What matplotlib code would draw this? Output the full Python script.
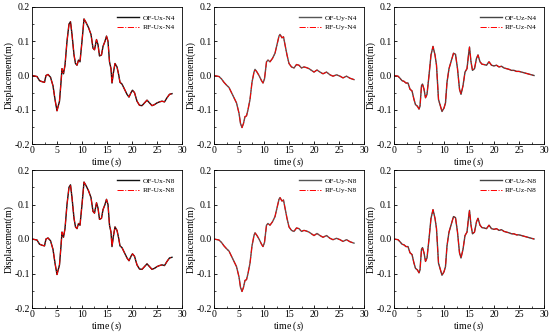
import matplotlib
matplotlib.use("Agg")
import matplotlib.pyplot as plt
from matplotlib.ticker import MultipleLocator

plt.rcParams['font.family'] = ['Liberation Serif', 'DejaVu Serif']
plt.rcParams['mathtext.fontset'] = 'custom'
plt.rcParams['mathtext.it'] = 'Liberation Serif:italic'
plt.rcParams['mathtext.rm'] = 'Liberation Serif'

# ---- data ----
t_ux = [0, 1, 1.5, 2, 2.5, 2.8, 3.2, 3.7, 4.2, 4.6, 5.0, 5.5, 5.8, 6.0, 6.3, 6.6, 7.0, 7.4, 7.7,
        8.0, 8.4, 8.7, 9.0, 9.3, 9.6, 10.0, 10.4, 10.8, 11.3, 11.8, 12.2, 12.5, 12.9, 13.2, 13.5,
        13.9, 14.2, 14.6, 14.9, 15.2, 15.5, 15.8, 16.0, 16.3, 16.6, 17.0, 17.3, 17.6, 18.0, 18.5,
        19.0, 19.4, 19.8, 20.1, 20.5, 21.0, 21.5, 22.0, 22.5, 23.0, 23.5, 24.0, 24.5, 25.0, 25.5,
        26.0, 26.5, 27.0, 27.5, 28.0]
ux = [0.0, -0.003, -0.015, -0.018, -0.02, 0.0, 0.003, -0.005, -0.03, -0.07, -0.103, -0.075, -0.02,
      0.02, 0.005, 0.03, 0.1, 0.15, 0.157, 0.12, 0.06, 0.035, 0.03, 0.045, 0.04, 0.1, 0.165, 0.155,
      0.14, 0.12, 0.08, 0.075, 0.105, 0.09, 0.057, 0.06, 0.085, 0.1, 0.115, 0.1, 0.04, 0.02, -0.022,
      0.01, 0.035, 0.025, 0.005, -0.02, -0.025, -0.04, -0.055, -0.063, -0.05, -0.043, -0.05, -0.075,
      -0.087, -0.088, -0.08, -0.072, -0.08, -0.088, -0.085, -0.08, -0.077, -0.075, -0.077, -0.065,
      -0.055, -0.053]

t_uy = [0, 1, 1.5, 2, 2.5, 3, 3.5, 4, 4.5, 5, 5.3, 5.6, 5.9, 6.2, 6.5, 6.8, 7.2, 7.6, 8.0, 8.2, 8.6,
        9.0, 9.5, 9.8, 10.1, 10.5, 10.8, 11.2, 11.7, 12.2, 12.6, 13.0, 13.2, 13.6, 13.9, 14.2, 14.6,
        15.0, 15.5, 16.0, 16.5, 17.0, 17.5, 18.0, 18.5, 19.0, 19.5, 20.0, 20.6, 21.2, 21.8, 22.5,
        23.2, 23.8, 24.5, 25.2, 25.8, 26.5, 27.2, 28.0]
uy = [0.0, -0.003, -0.01, -0.02, -0.028, -0.035, -0.05, -0.065, -0.08, -0.11, -0.14, -0.152, -0.14,
      -0.12, -0.118, -0.1, -0.07, -0.02, 0.01, 0.018, 0.01, 0.0, -0.015, -0.022, -0.01, 0.04, 0.045,
      0.04, 0.05, 0.065, 0.09, 0.115, 0.12, 0.11, 0.113, 0.09, 0.06, 0.035, 0.025, 0.022, 0.032,
      0.03, 0.022, 0.025, 0.023, 0.02, 0.015, 0.01, 0.016, 0.01, 0.005, 0.01, 0.002, -0.002, 0.002,
      -0.002, -0.007, -0.002, -0.008, -0.012]

t_uz = [0, 0.8, 1.2, 1.6, 2.0, 2.4, 2.8, 3.2, 3.6, 4.0, 4.3, 4.7, 5.0, 5.2, 5.5, 5.7, 6.0, 6.3, 6.6,
        7.0, 7.4, 7.8, 8.2, 8.5, 8.9, 9.3, 9.6, 10.0, 10.3, 10.6, 11.0, 11.5, 11.9, 12.3, 12.7, 13.1,
        13.4, 13.8, 14.2, 14.6, 14.9, 15.1, 15.4, 15.7, 16.1, 16.5, 16.8, 17.2, 17.6, 18.0, 18.5,
        19.0, 19.5, 20.0, 20.5, 21.0, 21.5, 22.0, 22.5, 23.0, 23.5, 24.0, 24.5, 25.0, 25.5, 26.0,
        26.5, 27.0, 27.5, 28.0]
uz = [0.0, -0.002, -0.008, -0.015, -0.017, -0.022, -0.022, -0.04, -0.045, -0.07, -0.085, -0.09,
      -0.098, -0.09, -0.03, -0.025, -0.04, -0.065, -0.055, 0.0, 0.06, 0.085, 0.06, 0.03, -0.07,
      -0.09, -0.105, -0.095, -0.08, -0.02, 0.02, 0.045, 0.065, 0.062, 0.02, -0.04, -0.055, -0.03,
      0.01, 0.02, 0.06, 0.083, 0.04, 0.015, 0.02, 0.05, 0.06, 0.04, 0.033, 0.032, 0.03, 0.04, 0.03,
      0.028, 0.03, 0.025, 0.027, 0.022, 0.02, 0.018, 0.015, 0.015, 0.012, 0.012, 0.01, 0.008,
      0.006, 0.004, 0.002, 0.0]

panels = [
    (t_ux, ux, 'OF-Ux-N4', 'RF-Ux-N4', '#111111'),
    (t_uy, uy, 'OF-Uy-N4', 'RF-Uy-N4', '#555555'),
    (t_uz, uz, 'OF-Uz-N4', 'RF-Uz-N4', '#444444'),
    (t_ux, ux, 'OF-Ux-N8', 'RF-Ux-N8', '#111111'),
    (t_uy, uy, 'OF-Uy-N8', 'RF-Uy-N8', '#555555'),
    (t_uz, uz, 'OF-Uz-N8', 'RF-Uz-N8', '#444444'),
]

W, H = 550, 334
fig = plt.figure(figsize=(W / 100, H / 100), dpi=100)
lefts = [32, 214, 394]
rows = [(7, 144), (170, 308)]
aw = 150

for i, (t, v, lof, lrf, col) in enumerate(panels):
    r, c = divmod(i, 3)
    top, bot = rows[r]
    ax = fig.add_axes([lefts[c] / W, 1 - bot / H, aw / W, (bot - top) / H])
    ax.plot(t, v, color=col, lw=1.0, label=lof)
    ax.plot(t, v, color='red', lw=0.7, ls='-.', label=lrf)
    ax.set_xlim(0, 30)
    ax.set_ylim(-0.2, 0.2)
    ax.xaxis.set_major_locator(MultipleLocator(5))
    ax.xaxis.set_minor_locator(MultipleLocator(2.5))
    ax.yaxis.set_major_locator(MultipleLocator(0.1))
    ax.yaxis.set_minor_locator(MultipleLocator(0.05))
    ax.yaxis.set_major_formatter(matplotlib.ticker.FormatStrFormatter('%.1f'))
    ax.tick_params(which='both', direction='in', labelsize=7, pad=1.5)
    ax.tick_params(which='major', length=2.5, width=0.6)
    ax.tick_params(which='minor', length=1.5, width=0.5)
    for s in ax.spines.values():
        s.set_linewidth(0.6)
    ax.set_xlabel('time ($\\it{s}$)', fontsize=7, labelpad=0.3)
    ax.set_ylabel('Displacement(m)', fontsize=7, labelpad=0.8)
    ax.legend(loc='upper right', fontsize=5.3, frameon=False, handlelength=3,
              borderaxespad=0.6, labelspacing=0.5, handletextpad=0.4)

fig.savefig('out.png', dpi=100)
